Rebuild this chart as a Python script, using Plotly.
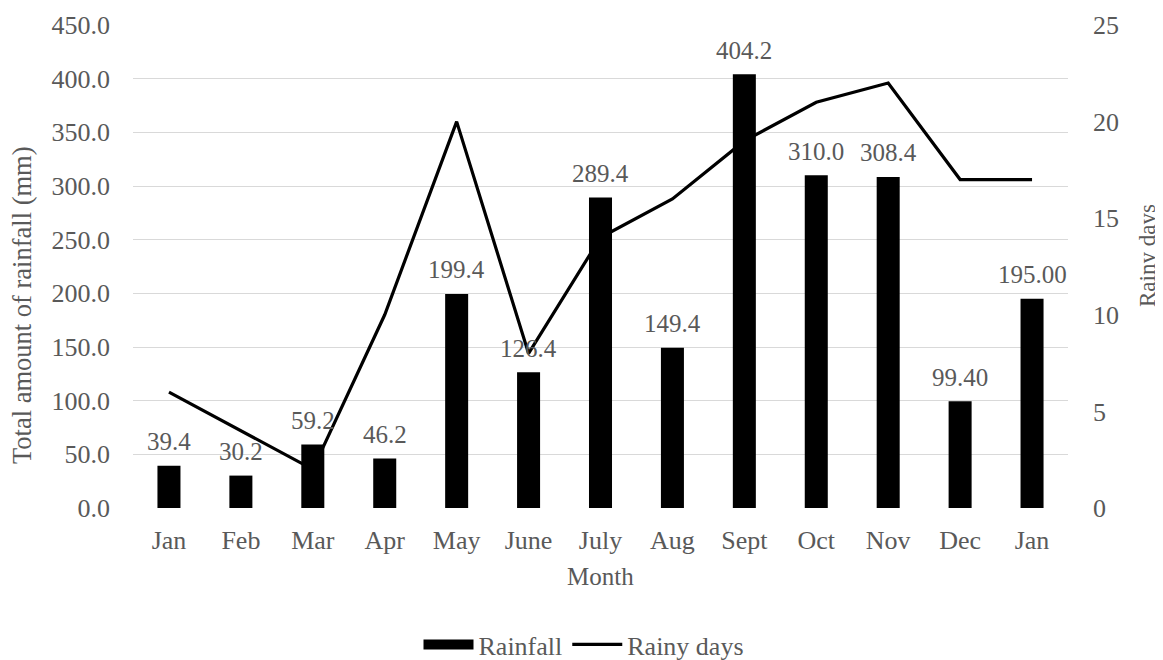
import plotly.graph_objects as go

months = ["Jan", "Feb", "Mar", "Apr", "May", "June", "July", "Aug", "Sept", "Oct", "Nov", "Dec", "Jan"]
rainfall = [39.4, 30.2, 59.2, 46.2, 199.4, 126.4, 289.4, 149.4, 404.2, 310.0, 308.4, 99.40, 195.00]
rainfall_labels = ["39.4", "30.2", "59.2", "46.2", "199.4", "126.4", "289.4", "149.4", "404.2", "310.0", "308.4", "99.40", "195.00"]
rainy_days = [6, 4, 2, 10, 20, 8, 14, 16, 19, 21, 22, 17, 17]

left_ticks = [0, 50, 100, 150, 200, 250, 300, 350, 400, 450]
right_ticks = [0, 5, 10, 15, 20, 25]

xpos = list(range(len(months)))
FONT = "Liberation Serif, Times New Roman, serif"
GREY = "#595959"
FS = 26
FL = 25

# page offset of 8px (browser body margin) compensated
L, T, B = 125, 17, 160
W, H = 1163, 660
R = W - 1060
PW = W - L - R
PH = H - T - B

fig = go.Figure()
fig.add_trace(go.Bar(
    x=xpos, y=rainfall, name="Rainfall", showlegend=False,
    marker=dict(color="black", line=dict(width=0)),
    width=0.32, hoverinfo="x+y",
))
# legend entry for bars (wide rectangle)
fig.add_trace(go.Scatter(
    x=[None], y=[None], mode="lines", name="Rainfall",
    line=dict(color="black", width=14),
))
fig.add_trace(go.Scatter(
    x=xpos, y=rainy_days, name="Rainy days", yaxis="y2",
    mode="lines", line=dict(color="black", width=3.2),
))

annotations = [
    dict(x=xv, y=yv, text=lab, xref="x", yref="y", showarrow=False,
         yanchor="middle", yshift=24,
         font=dict(family=FONT, size=FL, color=GREY))
    for xv, yv, lab in zip(xpos, rainfall, rainfall_labels)
]
annotations += [
    dict(text="Total amount of rainfall (mm)", textangle=-90, showarrow=False,
         xref="paper", yref="paper", x=(14 - L) / PW, y=1 - (297 - T) / PH,
         xanchor="center", yanchor="middle",
         font=dict(family=FONT, size=26.5, color=GREY)),
    dict(text="Rainy days", textangle=-90, showarrow=False,
         xref="paper", yref="paper", x=(1139 - L) / PW, y=1 - (248 - T) / PH,
         xanchor="center", yanchor="middle",
         font=dict(family=FONT, size=23, color=GREY)),
    dict(text="Month", showarrow=False,
         xref="paper", yref="paper", x=0.5, y=-(568 - (T + PH)) / PH,
         xanchor="center", yanchor="middle",
         font=dict(family=FONT, size=FL, color=GREY)),
]

fig.update_layout(
    width=W, height=H,
    margin=dict(l=L, r=R, t=T, b=B, autoexpand=False),
    plot_bgcolor="white", paper_bgcolor="white",
    font=dict(family=FONT, size=FS, color=GREY),
    showlegend=True,
    legend=dict(orientation="h", x=(576 - L) / PW, xanchor="center",
                y=-(613 - (T + PH)) / PH, yanchor="top",
                itemwidth=50, font=dict(family=FONT, size=26, color=GREY)),
    xaxis=dict(
        tickmode="array", tickvals=xpos, ticktext=months,
        range=[-0.5, len(months) - 0.5],
        showgrid=False, zeroline=False, showline=False, ticks="",
        ticklabelstandoff=14,
        tickfont=dict(family=FONT, size=FS, color=GREY),
        automargin=False,
    ),
    yaxis=dict(
        range=[0, 450], tickmode="array", tickvals=left_ticks,
        ticktext=[f"{v:.1f}" for v in left_ticks],
        showgrid=True, gridcolor="#d9d9d9", gridwidth=1.3,
        zeroline=False, showline=False, ticks="",
        ticklabelstandoff=22,
        tickfont=dict(family=FONT, size=FS, color=GREY),
        automargin=False,
    ),
    yaxis2=dict(
        range=[0, 25], tickmode="array", tickvals=right_ticks,
        overlaying="y", side="right",
        showgrid=False, zeroline=False, showline=False, ticks="",
        ticklabelstandoff=24,
        tickfont=dict(family=FONT, size=FS, color=GREY),
        automargin=False,
    ),
    annotations=annotations,
)

fig.write_html("out.html")
